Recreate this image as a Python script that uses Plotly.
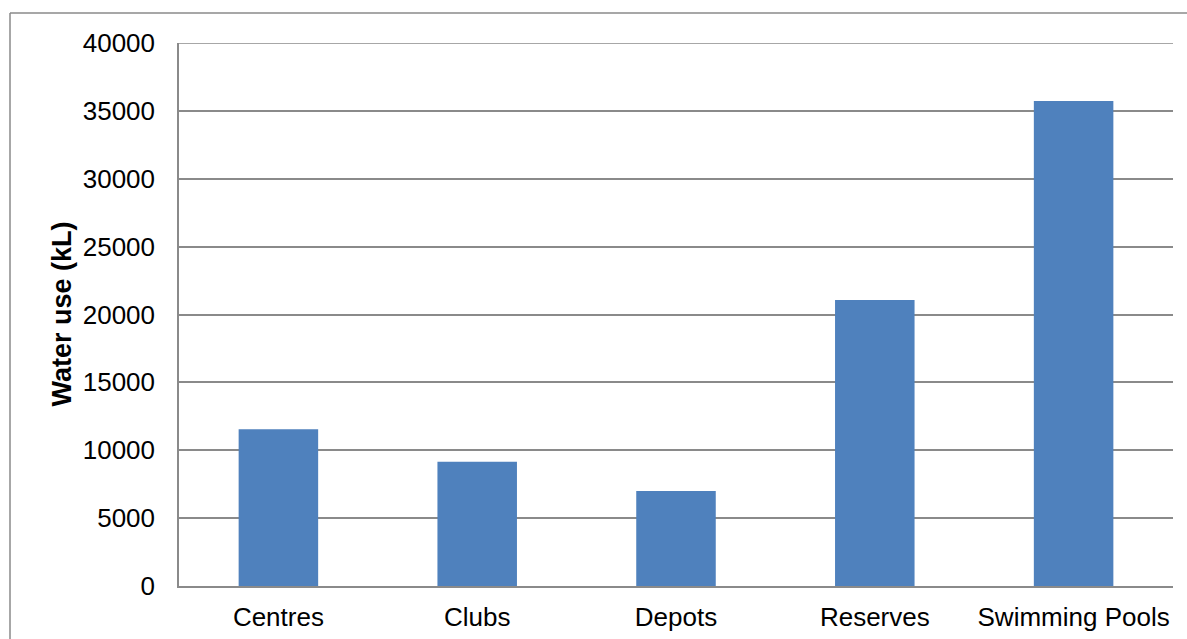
import plotly.graph_objects as go

# Water use by facility type
categories = ["Centres", "Clubs", "Depots", "Reserves", "Swimming Pools"]
water_use_kl = [11540, 9150, 7000, 21060, 35730]
y_ticks = [0, 5000, 10000, 15000, 20000, 25000, 30000, 35000, 40000]

W, H = 1187, 639
L, R, T, B = 179, 14, 43, 53
pw, ph = W - L - R, H - T - B

grid_col = "#8a8a8a"
font_family = "Liberation Sans, Arial, sans-serif"

fig = go.Figure(
    go.Bar(
        x=categories,
        y=water_use_kl,
        marker=dict(color="#4F81BD", line=dict(width=0)),
        width=0.4,
    )
)

# outer chart frame (only top and left edges fall inside the page)
fx = (10 - L) / pw
fy = 1 + (T - 13) / ph
frame = dict(type="line", xref="paper", yref="paper",
             line=dict(color="#8a8a8a", width=1.5))
fig.add_shape(**frame, x0=fx, y0=fy, x1=1 + R / pw, y1=fy)
fig.add_shape(**frame, x0=fx, y0=fy, x1=fx, y1=-B / ph)

# gridline at the top of the value range
fig.add_shape(type="line", xref="paper", yref="y",
              x0=0, x1=1, y0=y_ticks[-1], y1=y_ticks[-1],
              line=dict(color=grid_col, width=1.5))

fig.add_annotation(
    text="<b>Water use (kL)</b>",
    xref="paper", yref="paper",
    x=(61 - L) / pw, y=0.5,
    xanchor="center", yanchor="middle",
    textangle=-90, showarrow=False,
    font=dict(family=font_family, size=27, color="#000000"),
)

fig.update_layout(
    width=W, height=H,
    margin=dict(l=L, r=R, t=T, b=B, autoexpand=False),
    paper_bgcolor="white",
    plot_bgcolor="white",
    showlegend=False,
    bargap=0.6,
    font=dict(family=font_family, size=26, color="#000000"),
    xaxis=dict(
        automargin=False,
        showgrid=False,
        showline=True, linecolor=grid_col, linewidth=1.5,
        ticks="", ticklabelstandoff=7,
        tickfont=dict(size=26),
    ),
    yaxis=dict(
        automargin=False,
        range=[0, 40000],
        tickvals=y_ticks,
        ticktext=[str(v) for v in y_ticks],
        showgrid=True, gridcolor=grid_col, gridwidth=1.5,
        showline=True, linecolor=grid_col, linewidth=1.5,
        zeroline=False,
        ticks="", ticklabelstandoff=17,
        tickfont=dict(size=26),
    ),
)

fig.write_html("out.html")
